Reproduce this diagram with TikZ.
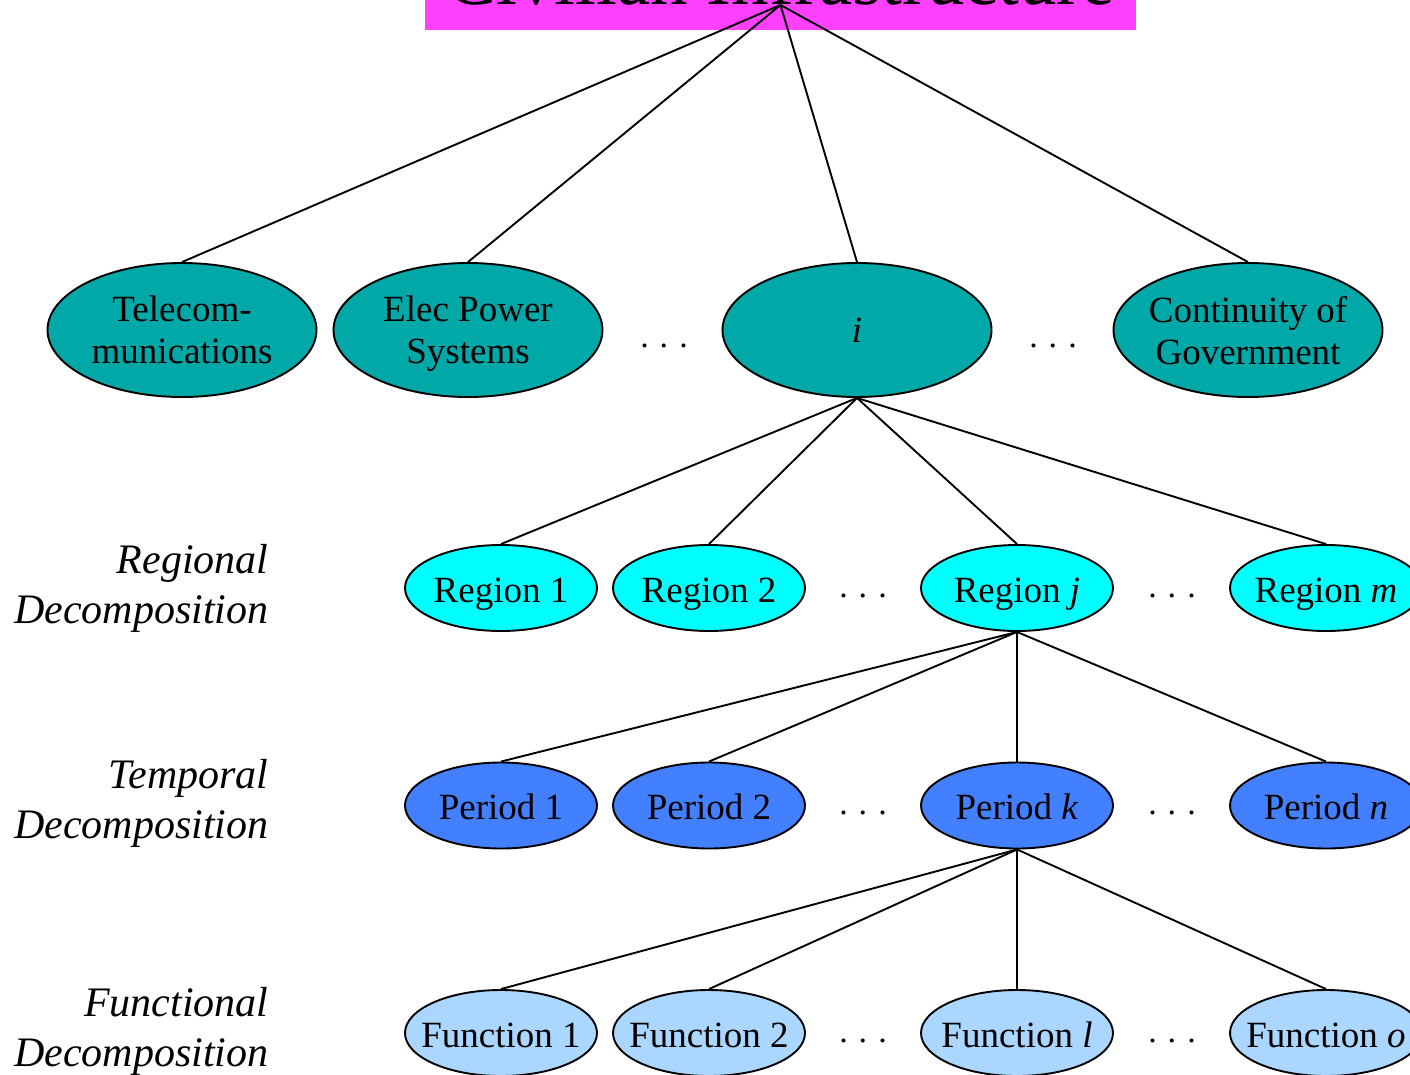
\documentclass[tikz,border=0pt]{standalone}
\usepackage{fontspec}
\setmainfont{Liberation Serif}
\usetikzlibrary{shapes.geometric}
\definecolor{sectorteal}{RGB}{0,168,168}
\definecolor{regioncyan}{RGB}{0,255,255}
\definecolor{periodblue}{RGB}{66,128,255}
\definecolor{funcblue}{RGB}{170,214,255}
\definecolor{titlemag}{RGB}{255,64,255}
\newcommand{\gapdots}{.\hspace{11pt}.\hspace{11pt}.}
\begin{document}
\begin{tikzpicture}[x=1pt,y=-1pt,
  oval/.style={ellipse,draw=black,line width=1.9pt,inner xsep=-30pt,inner ysep=0pt,align=center,
    font=\fontsize{37}{42}\selectfont},
  sector/.style={oval,fill=sectorteal,minimum width=269pt,minimum height=134pt,text depth=0pt},
  small/.style={oval,minimum width=192pt,minimum height=86pt,text height=28pt,text depth=0pt},
  region/.style={small,fill=regioncyan},
  period/.style={small,fill=periodblue},
  func/.style={small,fill=funcblue},
  link/.style={line width=1.9pt},
  gap/.style={font=\fontsize{34}{42}\selectfont},
  levellabel/.style={align=right,anchor=east,font=\fontsize{42}{50}\selectfont\itshape}]
\useasboundingbox (0,0) rectangle (1410,1075);
\clip (0,0) rectangle (1410,1075);
% title banner
\node[fill=titlemag,inner sep=0pt,minimum width=711pt,text depth=25pt,anchor=base,
  font=\fontsize{75}{80}\selectfont] (title) at (780.5,5) {Civilian Infrastructure};
% sectors
\node[sector] (tel) at (182,330) {Telecom-\\munications};
\node[sector] (elec) at (468,330) {Elec Power\\Systems};
\node[sector] (sec) at (857,330) {\textit{i}};
\node[sector] (gov) at (1248,330) {Continuity of\\Government};
\node[gap] (d1) at (664,346) {\gapdots};
\node[gap] (d2) at (1053,346) {\gapdots};
% regions
\node[region] (r1) at (501,588) {Region 1};
\node[region] (r2) at (709,588) {Region 2};
\node[region] (rj) at (1017,588) {Region \textit{j}};
\node[region] (rm) at (1326,588) {Region \textit{m}};
\node[gap] (d3) at (863,596) {\gapdots};
\node[gap] (d4) at (1172,596) {\gapdots};
% periods
\node[period] (p1) at (501,805.5) {Period 1};
\node[period] (p2) at (709,805.5) {Period 2};
\node[period] (pk) at (1017,805.5) {Period \textit{k}};
\node[period] (pn) at (1326,805.5) {Period \textit{n}};
\node[gap] (d5) at (863,813) {\gapdots};
\node[gap] (d6) at (1172,813) {\gapdots};
% functions
\node[func] (f1) at (501,1033) {Function 1};
\node[func] (f2) at (709,1033) {Function 2};
\node[func] (fl) at (1017,1033) {Function \textit{l}};
\node[func] (fo) at (1326,1033) {Function \textit{o}};
\node[gap] (d7) at (863,1041) {\gapdots};
\node[gap] (d8) at (1172,1041) {\gapdots};
% level labels
\node[levellabel] (lreg) at (272,588) {Regional\\Decomposition};
\node[levellabel] (ltmp) at (272,803) {Temporal\\Decomposition};
\node[levellabel] (lfun) at (272,1031) {Functional\\Decomposition};
% tree connectors
\foreach \n in {tel,elec,sec,gov} \draw[link] (title.base) -- (\n.north);
\foreach \n in {r1,r2,rj,rm} \draw[link] (sec.south) -- (\n.north);
\foreach \n in {p1,p2,pk,pn} \draw[link] (rj.south) -- (\n.north);
\foreach \n in {f1,f2,fl,fo} \draw[link] (pk.south) -- (\n.north);
\end{tikzpicture}
\end{document}
